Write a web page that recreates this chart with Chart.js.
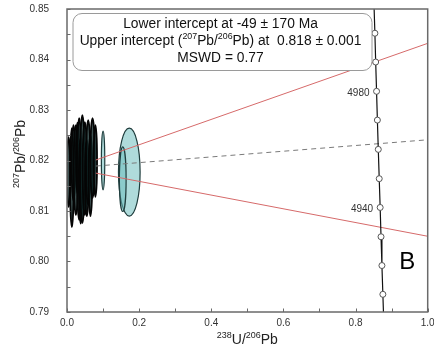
<!DOCTYPE html>
<html>
<head>
<meta charset="utf-8">
<script src="https://cdn.jsdelivr.net/npm/chart.js@4.4.0/dist/chart.umd.min.js"></script>
<style>
  body { margin: 0; background: #fff; }
  #wrap { width: 434px; height: 354px; }
</style>
</head>
<body>
<div id="wrap"><canvas id="twChart"></canvas></div>
<script>
// concordia curve (age in Ma)
var concordiaAge = [5010, 5000, 4990, 4980, 4970, 4960, 4950, 4940, 4930, 4920, 4910, 4900];
var concordiaX = [0.8511, 0.8536, 0.8558, 0.8582, 0.8605, 0.8630, 0.8656, 0.8682, 0.8706, 0.8731, 0.8757, 0.8783];
var concordiaY = [0.8509, 0.8452, 0.8395, 0.8337, 0.8280, 0.8222, 0.8164, 0.8107, 0.8049, 0.7992, 0.7935, 0.7878];
var markedAges = [5000, 4990, 4980, 4970, 4960, 4950, 4940, 4930, 4920, 4910];
var labelledAges = [4980, 4940];

// discordia and its error envelope
var discordiaX = [0.08, 1.0];
var discordiaY = [0.8189, 0.8241];
var envelopeUpperY = [0.8201, 0.8432];
var envelopeLowerY = [0.8175, 0.8050];

// analyses: centre and half-axes (2 sigma)
var darkX  = [0.0045, 0.0135, 0.0180, 0.0246, 0.0290, 0.0338, 0.0380, 0.0426, 0.0495, 0.0550, 0.0588, 0.0650, 0.0708, 0.0787];
var darkY  = [0.8177, 0.8166, 0.8195, 0.8181, 0.8205, 0.8183, 0.8160, 0.8183, 0.8184, 0.8165, 0.8196, 0.8170, 0.8205, 0.8199];
var darkRX = [0.0047, 0.0051, 0.0050, 0.0060, 0.0040, 0.0060, 0.0050, 0.0065, 0.0060, 0.0050, 0.0060, 0.0050, 0.0060, 0.0046];
var darkRY = [0.0069, 0.0098, 0.0075, 0.0089, 0.0070, 0.0101, 0.0085, 0.0107, 0.0092, 0.0075, 0.0084, 0.0080, 0.0079, 0.0071];

var lightX  = [0.1000, 0.1727, 0.1546];
var lightY  = [0.8200, 0.8177, 0.8163];
var lightRX = [0.0047, 0.0300, 0.0093];
var lightRY = [0.0058, 0.0087, 0.0064];

var xTicksShown = [0, 0.2, 0.4, 0.6, 0.8, 1.0];
var yTicksShown = [0.79, 0.80, 0.81, 0.82, 0.83, 0.84, 0.85];

var xTitle = [['238', 1], ['U/', 0], ['206', 1], ['Pb', 0]];
var yTitle = [['207', 1], ['Pb/', 0], ['206', 1], ['Pb', 0]];
var boxLines = [
    [['Lower intercept at -49 \u00b1 170 Ma', 0]],
    [['Upper intercept (', 0], ['207', 1], ['Pb/', 0], ['206', 1], ['Pb) at  0.818 \u00b1 0.001', 0]],
    [['MSWD = 0.77', 0]]
];
var panelLetter = 'B';

var FONT = '"Liberation Sans", Arial, sans-serif';

function pts(xs, ys) {
    return xs.map(function (x, i) { return { x: x, y: ys[i] }; });
}

var concordiaPts = pts(concordiaX, concordiaY);
var markerPts = concordiaPts.filter(function (p, i) { return markedAges.indexOf(concordiaAge[i]) >= 0; });

// text with superscripts
function richWidth(ctx, parts, size) {
    var w = 0;
    parts.forEach(function (p) {
        ctx.font = (p[1] ? size * 0.64 : size) + 'px ' + FONT;
        w += ctx.measureText(p[0]).width;
    });
    return w;
}
function drawRich(ctx, parts, x, y, size) {
    var w = richWidth(ctx, parts, size);
    var cx = x - w / 2;
    ctx.textAlign = 'left';
    ctx.textBaseline = 'middle';
    parts.forEach(function (p) {
        ctx.font = (p[1] ? size * 0.64 : size) + 'px ' + FONT;
        ctx.fillText(p[0], cx, p[1] ? y - size * 0.33 : y);
        cx += ctx.measureText(p[0]).width;
    });
}

function drawEllipses(chart, xs, ys, rxs, rys, fill, stroke, lw) {
    var ctx = chart.ctx, sx = chart.scales.x, sy = chart.scales.y;
    xs.forEach(function (cx, i) {
        var px = sx.getPixelForValue(cx), py = sy.getPixelForValue(ys[i]);
        var rx = Math.abs(sx.getPixelForValue(cx + rxs[i]) - px);
        var ry = Math.abs(sy.getPixelForValue(ys[i] + rys[i]) - py);
        ctx.beginPath();
        ctx.ellipse(px, py, rx, ry, 0, 0, Math.PI * 2);
        ctx.fillStyle = fill;
        ctx.fill();
        ctx.lineWidth = lw;
        ctx.strokeStyle = stroke;
        ctx.stroke();
    });
}

var ellipsePlugin = {
    id: 'ellipses',
    beforeDatasetsDraw: function (chart) {
        var ctx = chart.ctx, a = chart.chartArea;
        ctx.save();
        ctx.beginPath();
        ctx.rect(a.left, a.top, a.right - a.left, a.bottom - a.top);
        ctx.clip();
        drawEllipses(chart, darkX, darkY, darkRX, darkRY, 'rgba(15,40,40,0.8)', '#050505', 1.8);
        drawEllipses(chart, lightX, lightY, lightRX, lightRY, 'rgba(110,190,190,0.55)', '#1f3d3d', 1.2);
        ctx.restore();
    }
};

var decorPlugin = {
    id: 'decor',
    afterDatasetsDraw: function (chart) {
        var ctx = chart.ctx, a = chart.chartArea, sx = chart.scales.x, sy = chart.scales.y;
        ctx.save();

        // age labels on the concordia
        ctx.fillStyle = '#333';
        ctx.font = '10px ' + FONT;
        ctx.textAlign = 'right';
        ctx.textBaseline = 'middle';
        labelledAges.forEach(function (age) {
            var i = concordiaAge.indexOf(age);
            ctx.fillText(String(age), sx.getPixelForValue(concordiaX[i]) - 7, sy.getPixelForValue(concordiaY[i]) + 2);
        });

        // result box
        var bx = a.left + 6, by = a.top + 4.5, bw = 299, bh = 57, r = 9;
        ctx.beginPath();
        ctx.roundRect(bx, by, bw, bh, r);
        ctx.fillStyle = '#fff';
        ctx.fill();
        ctx.lineWidth = 1;
        ctx.strokeStyle = '#9a9a9a';
        ctx.stroke();
        ctx.fillStyle = '#111';
        boxLines.forEach(function (line, i) {
            drawRich(ctx, line, bx + bw / 2 - 2, by + 11 + i * 17, 13.8);
        });

        // panel letter
        ctx.font = '24px ' + FONT;
        ctx.textAlign = 'center';
        ctx.textBaseline = 'middle';
        ctx.fillStyle = '#000';
        ctx.fillText(panelLetter, a.right - 20.5, a.bottom - 50);
        ctx.restore();
    },
    afterDraw: function (chart) {
        var ctx = chart.ctx, a = chart.chartArea, sx = chart.scales.x, sy = chart.scales.y;
        ctx.save();
        // frame
        ctx.strokeStyle = '#6a6a6a';
        ctx.lineWidth = 1.5;
        ctx.strokeRect(a.left, a.top, a.right - a.left, a.bottom - a.top);
        // inward tick marks
        ctx.lineWidth = 1;
        ctx.beginPath();
        sx.ticks.forEach(function (t) {
            var p = Math.round(sx.getPixelForValue(t.value)) + 0.5;
            ctx.moveTo(p, a.bottom);
            ctx.lineTo(p, a.bottom - 3.5);
        });
        sy.ticks.forEach(function (t) {
            var p = Math.round(sy.getPixelForValue(t.value)) + 0.5;
            ctx.moveTo(a.left, p);
            ctx.lineTo(a.left + 3.5, p);
        });
        ctx.stroke();

        // axis titles
        ctx.fillStyle = '#222';
        drawRich(ctx, xTitle, (a.left + a.right) / 2, 340, 14);
        ctx.translate(21, 154);
        ctx.rotate(-Math.PI / 2);
        drawRich(ctx, yTitle, 0, 0, 14);
        ctx.restore();
    }
};

function near(list, v) {
    return list.some(function (t) { return Math.abs(t - v) < 1e-6; });
}

new Chart(document.getElementById('twChart'), {
    type: 'scatter',
    data: {
        datasets: [
            {
                data: markerPts,
                pointRadius: 3,
                pointBackgroundColor: '#fff',
                pointBorderColor: '#555',
                pointBorderWidth: 1,
                showLine: false
            },
            {
                data: concordiaPts,
                showLine: true,
                borderColor: '#111',
                borderWidth: 1.2,
                pointRadius: 0
            },
            {
                data: pts(discordiaX, discordiaY),
                showLine: true,
                borderColor: '#7a7a7a',
                borderWidth: 1,
                borderDash: [5, 4],
                pointRadius: 0
            },
            {
                data: pts(discordiaX, envelopeUpperY),
                showLine: true,
                borderColor: '#d66a6a',
                borderWidth: 1,
                pointRadius: 0
            },
            {
                data: pts(discordiaX, envelopeLowerY),
                showLine: true,
                borderColor: '#d66a6a',
                borderWidth: 1,
                pointRadius: 0
            }
        ]
    },
    options: {
        responsive: true,
        maintainAspectRatio: false,
        animation: false,
        layout: { padding: { top: 9, right: 6.3, left: 0, bottom: 0 } },
        plugins: {
            legend: { display: false },
            tooltip: { enabled: false }
        },
        scales: {
            x: {
                type: 'linear',
                min: 0,
                max: 1,
                grid: { display: false },
                border: { display: false },
                ticks: {
                    stepSize: 0.1,
                    padding: -3,
                    color: '#333',
                    font: { size: 10, family: FONT },
                    maxRotation: 0,
                    autoSkip: false,
                    callback: function (v) { return near(xTicksShown, v) ? v.toFixed(1) : ''; }
                },
                afterFit: function (s) { s.height = 42; s.paddingLeft = 0; s.paddingRight = 0; }
            },
            y: {
                type: 'linear',
                min: 0.79,
                max: 0.85,
                grid: { display: false },
                border: { display: false },
                ticks: {
                    stepSize: 0.005,
                    padding: 10,
                    color: '#333',
                    font: { size: 10, family: FONT },
                    autoSkip: false,
                    callback: function (v) { return near(yTicksShown, v) ? v.toFixed(2) : ''; }
                },
                afterFit: function (s) { s.width = 67; s.paddingTop = 0; s.paddingBottom = 0; }
            }
        }
    },
    plugins: [ellipsePlugin, decorPlugin]
});
</script>
</body>
</html>
